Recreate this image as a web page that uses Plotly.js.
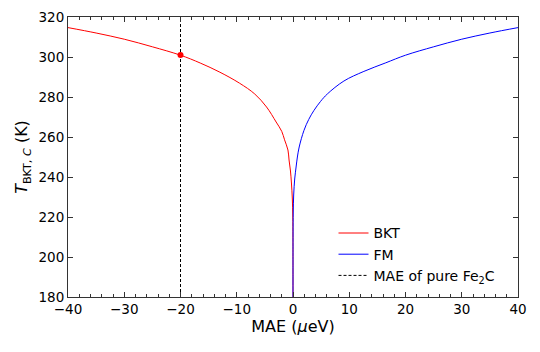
<!DOCTYPE html>
<html>
<head>
<meta charset="utf-8">
<script src="https://cdn.plot.ly/plotly-3.0.1.min.js"></script>
<style>
  body { margin: 0; background: #fff; }
  #chart { width: 540px; height: 352px; }
</style>
</head>
<body>
<div id="chart"></div>
<script>
// values
var bktX = [-40, -35, -30, -25, -20, -16.5, -13, -9.5, -6.8, -4.7, -3, -2, -1.5, -0.9, -0.7, -0.45, -0.28, -0.12, -0.04, -0.01, 0];
var bktY = [314.7, 312.0, 308.9, 305.1, 300.9, 297.0, 292.4, 286.9, 281.5, 275.0, 267.5, 262.8, 258.6, 253.5, 248.5, 243.0, 237.0, 229.0, 220.0, 210.0, 180.0];

var fmX = [0, 0.01, 0.04, 0.12, 0.3, 0.55, 0.78, 1.1, 1.95, 2.8, 3.73, 4.9, 6.1, 9.05, 12.6, 16.5, 20, 25, 30, 35, 40];
var fmY = [180.0, 212.0, 222.0, 231.0, 239.0, 245.0, 250.0, 255.0, 263.3, 268.8, 273.3, 277.8, 281.5, 288.0, 292.8, 297.1, 300.9, 305.1, 308.9, 312.0, 314.7];

var pureMAE = -20;
var pureT = 301;
var yRange = [180, 320];

var FONT = 'DejaVu Sans, sans-serif';

var traceBKT = {
    x: bktX, y: bktY,
    mode: 'lines', name: 'BKT',
    line: {color: '#ff0000', width: 1, shape: 'spline', smoothing: 1}
};
var traceFM = {
    x: fmX, y: fmY,
    mode: 'lines', name: 'FM',
    line: {color: '#0000ff', width: 1, shape: 'spline', smoothing: 1}
};
var tracePure = {
    x: [pureMAE, pureMAE], y: yRange,
    mode: 'lines', name: 'MAE of pure Fe<sub>2</sub>C',
    line: {color: '#000000', width: 1, dash: '3px,2px'}
};
var traceDot = {
    x: [pureMAE], y: [pureT],
    mode: 'markers', showlegend: false,
    marker: {color: '#ff0000', size: 6}
};

var axisCommon = {
    showgrid: false, zeroline: false,
    showline: true, linecolor: '#333', linewidth: 1,
    mirror: 'ticks', ticks: 'inside', ticklen: 5, tickwidth: 1, tickcolor: '#333',
    tickfont: {family: FONT, size: 13.5, color: '#000'}
};

var layout = {
    width: 540, height: 352,
    margin: {l: 68, r: 22, t: 17, b: 55},
    paper_bgcolor: '#fff', plot_bgcolor: '#fff',
    font: {family: FONT, color: '#000'},
    xaxis: Object.assign({}, axisCommon, {
        range: [-40, 40], dtick: 10,
        minor: {dtick: 2, ticks: 'inside', ticklen: 3, tickcolor: '#333'},
        title: {text: 'MAE (<i>μ</i>eV)', font: {family: FONT, size: 16}, standoff: 4}
    }),
    yaxis: Object.assign({}, axisCommon, {
        range: yRange, dtick: 20,
        title: {text: '<i>T</i><sub>BKT, <i>C</i></sub> (K)', font: {family: FONT, size: 16}, standoff: 6}
    }),
    legend: {
        x: 0.59, y: 0.02, xanchor: 'left', yanchor: 'bottom',
        bgcolor: 'rgba(255,255,255,0)', borderwidth: 0,
        tracegroupgap: 0,
        font: {family: FONT, size: 14}
    },
    showlegend: true
};

Plotly.newPlot('chart', [traceBKT, traceFM, tracePure, traceDot], layout, {staticPlot: true});
</script>
</body>
</html>
